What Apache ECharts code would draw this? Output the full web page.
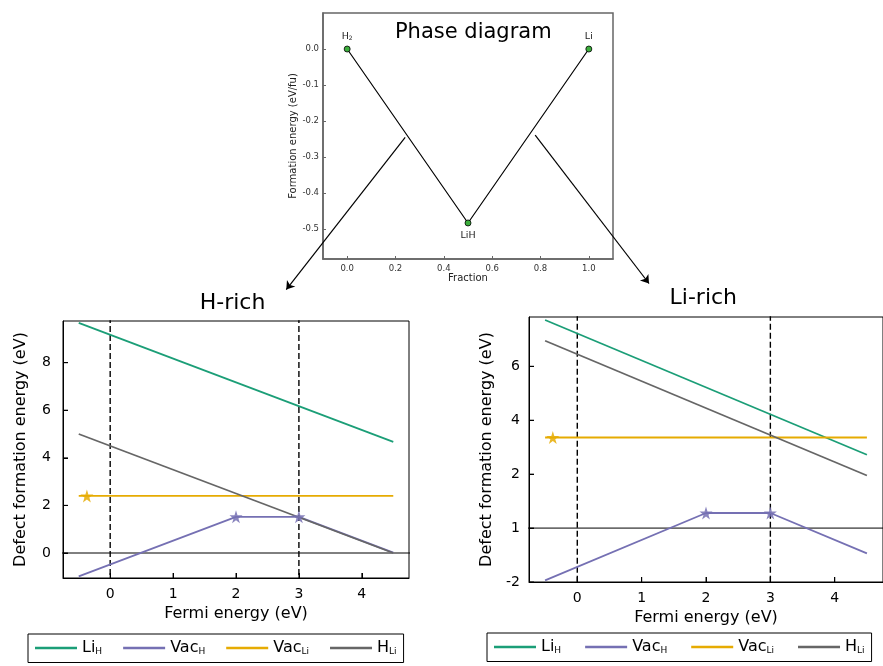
<!DOCTYPE html>
<html>
<head>
<meta charset="utf-8">
<script src="https://cdn.jsdelivr.net/npm/echarts@6/dist/echarts.min.js"></script>
<style>html,body{margin:0;padding:0;background:#fff}#c{width:883px;height:666px}</style>
</head>
<body>
<div id="c"></div>
<script>
// ---------- data ----------
const phaseFraction = [0.0, 0.5, 1.0];
const phaseEnergy = [0.0, -0.483, 0.0];
const phaseNames = ['H2', 'LiH', 'Li'];
const phaseXTicks = [0.0, 0.2, 0.4, 0.6, 0.8, 1.0];
const phaseYTicks = [-0.5, -0.4, -0.3, -0.2, -0.1, 0.0];
// arrows (start -> end) in phase-diagram data coords
const arrowLeft = [[0.240, -0.245], [-0.252, -0.668]];
const arrowRight = [[0.778, -0.239], [1.249, -0.651]];

const fermiTicks = [0, 1, 2, 3, 4];
const hRichYTicks = [0, 2, 4, 6, 8];
const liRichYTickValues = [-2, 0, 2, 4, 6];
const liRichYTickLabels = ['-2', '1', '2', '4', '6'];
const bandEdges = [0, 3];

const hRichLiH = [[-0.5, 9.67], [4.5, 4.67]];
const hRichVacH = [[-0.5, -0.98], [2, 1.52], [3, 1.52], [4.5, 0.02]];
const hRichVacLi = [[-0.5, 2.40], [4.5, 2.40]];
const hRichHLi = [[-0.5, 5.0], [4.5, 0.0]];
const hRichVacLiStars = [[-0.37, 2.40]];
const hRichVacHStars = [[2, 1.52], [3, 1.52]];

const liRichLiH = [[-0.5, 7.72], [4.5, 2.72]];
const liRichVacH = [[-0.5, -1.94], [2, 0.56], [3, 0.56], [4.5, -0.94]];
const liRichVacLi = [[-0.5, 3.36], [4.5, 3.36]];
const liRichHLi = [[-0.5, 6.95], [4.5, 1.95]];
const liRichVacLiStars = [[-0.38, 3.36]];
const liRichVacHStars = [[2, 0.56], [3, 0.56]];

const legendNames = ['Li_H', 'Vac_H', 'Vac_Li', 'H_Li'];
const legendRich = {
  'Li_H': '{m|Li}{s|H}', 'Vac_H': '{m|Vac}{s|H}', 'Vac_Li': '{m|Vac}{s|Li}', 'H_Li': '{m|H}{s|Li}'
};
const colors = { 'Li_H': '#1b9e77', 'Vac_H': '#7570b3', 'Vac_Li': '#e6ab02', 'H_Li': '#666666' };

// ---------- styles ----------
const FONT = 'DejaVu Sans';
const star = 'path://M50,0 L61,35 L98,35 L68,57 L79,91 L50,70 L21,91 L32,57 L2,35 L39,35 Z';
const X_RANGE = [-0.75, 4.75];
const H_Y_RANGE = [-1.05, 9.75];
const LI_Y_RANGE = [-2.0, 7.83];

function defectXAxis(gi) {
  return {
    type: 'value', gridIndex: gi, min: X_RANGE[0], max: X_RANGE[1],
    name: 'Fermi energy (eV)', nameLocation: 'middle', nameGap: 28,
    nameTextStyle: { fontFamily: FONT, fontSize: 16, color: '#000' },
    axisLine: { show: true, onZero: false, lineStyle: { color: '#000', width: 1 } }, splitLine: { show: false },
    axisTick: { show: true, inside: true, length: 5, customValues: fermiTicks },
    axisLabel: { customValues: fermiTicks, fontFamily: FONT, fontSize: 14, color: '#000', margin: 9 }
  };
}
function defectYAxis(gi, range, ticks, fmt, gap, margin) {
  return {
    type: 'value', gridIndex: gi, min: range[0], max: range[1],
    name: 'Defect formation energy (eV)', nameLocation: 'middle', nameGap: gap,
    nameTextStyle: { fontFamily: FONT, fontSize: 16, color: '#000' },
    axisLine: { show: true, onZero: false, lineStyle: { color: '#000', width: 1 } }, splitLine: { show: false },
    axisTick: { show: true, inside: true, length: 5, customValues: ticks },
    axisLabel: { customValues: ticks, fontFamily: FONT, fontSize: 14, color: '#000', margin: margin, formatter: fmt }
  };
}
// inward tick marks placed through the axes' own scales
function tickMarks(gi, yRange, yTicks) {
  return [
    {
      type: 'scatter', xAxisIndex: gi, yAxisIndex: gi, clip: false, silent: true, animation: false, z: 6,
      data: fermiTicks.map(function (v) { return [v, yRange[0]]; }),
      symbol: 'rect', symbolSize: [1.2, 5], symbolOffset: [0, -2.5], itemStyle: { color: '#000' }
    },
    {
      type: 'scatter', xAxisIndex: gi, yAxisIndex: gi, clip: false, silent: true, animation: false, z: 6,
      data: yTicks.map(function (v) { return [X_RANGE[0], v]; }),
      symbol: 'rect', symbolSize: [5, 1.2], symbolOffset: [2.5, 0], itemStyle: { color: '#000' }
    }
  ];
}
function lineSeries(name, data, gi) {
  return {
    name: name, type: 'line', xAxisIndex: gi, yAxisIndex: gi, data: data,
    symbol: 'none', lineStyle: { color: colors[name], width: 1.8 }, itemStyle: { color: colors[name] },
    animation: false, z: 3
  };
}
function starSeries(name, data, gi) {
  return {
    name: name + '_star', type: 'scatter', xAxisIndex: gi, yAxisIndex: gi, data: data,
    symbol: star, symbolSize: 13, itemStyle: { color: colors[name], opacity: 0.85 }, animation: false, z: 4
  };
}
function refLines(gi) {
  const out = [];
  bandEdges.forEach(function (e) {
    out.push({
      type: 'line', xAxisIndex: gi, yAxisIndex: gi, data: [[e, -10], [e, 20]], symbol: 'none',
      lineStyle: { color: '#000', width: 1.4, type: [6, 3] }, animation: false, silent: true, z: 2
    });
  });
  out.push({
    type: 'line', xAxisIndex: gi, yAxisIndex: gi, data: [[-10, 0], [10, 0]], symbol: 'none',
    lineStyle: { color: '#000', width: 1 }, animation: false, silent: true, z: 2
  });
  return out;
}
function legend(left, top, gap) {
  return {
    data: legendNames.map(function (n) { return { name: n, icon: 'rect', itemStyle: { color: colors[n] } }; }),
    left: left, top: top, orient: 'horizontal', itemWidth: 42, itemHeight: 2.5, itemGap: gap,
    borderColor: '#000', borderWidth: 1, padding: [6, 7], selectedMode: false,
    formatter: function (n) { return legendRich[n]; },
    textStyle: {
      fontFamily: FONT, color: '#000',
      rich: { m: { fontFamily: FONT, fontSize: 16, color: '#000' }, s: { fontFamily: FONT, fontSize: 9, color: '#000', verticalAlign: 'bottom', padding: [8, 0, 0, 0] } }
    }
  };
}

const chart = echarts.init(document.getElementById('c'), null, { renderer: 'canvas' });

const option = {
  backgroundColor: '#fff',
  animation: false,
  grid: [
    { left: 323, right: 270, top: 13, bottom: 407, show: true, borderColor: '#666', borderWidth: 1.5 },
    { left: 63, right: 474, top: 321, bottom: 88, show: true, borderColor: '#000', borderWidth: 1 },
    { left: 529, right: -3, top: 317, bottom: 84, show: true, borderColor: '#000', borderWidth: 1 }
  ],
  xAxis: [
    {
      type: 'value', gridIndex: 0, min: -0.1, max: 1.1,
      name: 'Fraction', nameLocation: 'middle', nameGap: 14,
      nameTextStyle: { fontFamily: FONT, fontSize: 10, color: '#222' },
      axisLine: { show: true, onZero: false, lineStyle: { color: '#666', width: 1.5 } }, splitLine: { show: false },
      axisTick: { show: true, inside: true, length: 3, customValues: phaseXTicks },
      axisLabel: { customValues: phaseXTicks, fontFamily: FONT, fontSize: 8.5, color: '#333', margin: 5, formatter: function (v) { return v.toFixed(1); } }
    },
    defectXAxis(1),
    defectXAxis(2)
  ],
  yAxis: [
    {
      type: 'value', gridIndex: 0, min: -0.583, max: 0.1,
      name: 'Formation energy (eV/fu)', nameLocation: 'middle', nameGap: 25,
      nameTextStyle: { fontFamily: FONT, fontSize: 10, color: '#222' },
      axisLine: { show: true, onZero: false, lineStyle: { color: '#666', width: 1.5 } }, splitLine: { show: false },
      axisTick: { show: true, inside: true, length: 3, customValues: phaseYTicks },
      axisLabel: { customValues: phaseYTicks, fontFamily: FONT, fontSize: 8.5, color: '#333', margin: 4, formatter: function (v) { return (Math.abs(v) < 1e-9 ? 0 : v).toFixed(1); } }
    },
    defectYAxis(1, H_Y_RANGE, hRichYTicks, function (v) { return String(Math.round(v)); }, 34, 12),
    defectYAxis(2, LI_Y_RANGE, liRichYTickValues, function (v) {
      const i = liRichYTickValues.indexOf(Math.round(v));
      return i >= 0 ? liRichYTickLabels[i] : '';
    }, 34, 9)
  ],
  legend: [legend(28, 634, 21), legend(487, 633, 24)],
  graphic: [
    { type: 'text', x: 473.3, y: 33, style: { text: 'Phase diagram', fontFamily: FONT, fontSize: 21, fill: '#000', align: 'center', verticalAlign: 'middle' } },
    { type: 'text', x: 232.5, y: 303.5, style: { text: 'H-rich', fontFamily: FONT, fontSize: 22, fill: '#000', align: 'center', verticalAlign: 'middle' } },
    { type: 'text', x: 703.3, y: 298, style: { text: 'Li-rich', fontFamily: FONT, fontSize: 22, fill: '#000', align: 'center', verticalAlign: 'middle' } }
  ],
  series: [
    {
      type: 'line', xAxisIndex: 0, yAxisIndex: 0,
      data: phaseFraction.map(function (x, i) {
        const below = phaseNames[i] === 'LiH';
        return {
          value: [x, phaseEnergy[i]],
          label: {
            show: true, position: below ? 'bottom' : 'top', distance: 4,
            formatter: phaseNames[i] === 'H2' ? '{m|H}{s|2}' : phaseNames[i],
            fontFamily: FONT, fontSize: 9.5, color: '#222',
            rich: { m: { fontFamily: FONT, fontSize: 9.5, color: '#222' }, s: { fontFamily: FONT, fontSize: 6, color: '#222', verticalAlign: 'bottom', padding: [4, 0, 0, 0] } }
          }
        };
      }),
      symbol: 'circle', symbolSize: 6, showAllSymbol: true,
      lineStyle: { color: '#000', width: 1.2 },
      itemStyle: { color: '#3cae3c', borderColor: '#000', borderWidth: 0.8 },
      animation: false, z: 3
    },
    {
      type: 'lines', coordinateSystem: 'cartesian2d', xAxisIndex: 0, yAxisIndex: 0, clip: false,
      data: [{ coords: arrowLeft }, { coords: arrowRight }],
      symbol: ['none', 'arrow'], symbolSize: [0, 8],
      lineStyle: { color: '#000', width: 1.2, opacity: 1, curveness: 0 },
      animation: false, silent: true, z: 5
    }
  ]
    .concat(refLines(1))
    .concat([
      lineSeries('Li_H', hRichLiH, 1), lineSeries('Vac_H', hRichVacH, 1), lineSeries('Vac_Li', hRichVacLi, 1), lineSeries('H_Li', hRichHLi, 1),
      starSeries('Vac_Li', hRichVacLiStars, 1), starSeries('Vac_H', hRichVacHStars, 1)
    ])
    .concat(tickMarks(1, H_Y_RANGE, hRichYTicks))
    .concat(refLines(2))
    .concat([
      lineSeries('Li_H', liRichLiH, 2), lineSeries('Vac_H', liRichVacH, 2), lineSeries('Vac_Li', liRichVacLi, 2), lineSeries('H_Li', liRichHLi, 2),
      starSeries('Vac_Li', liRichVacLiStars, 2), starSeries('Vac_H', liRichVacHStars, 2)
    ])
    .concat(tickMarks(2, LI_Y_RANGE, liRichYTickValues))
};
chart.setOption(option);
</script>
</body>
</html>
